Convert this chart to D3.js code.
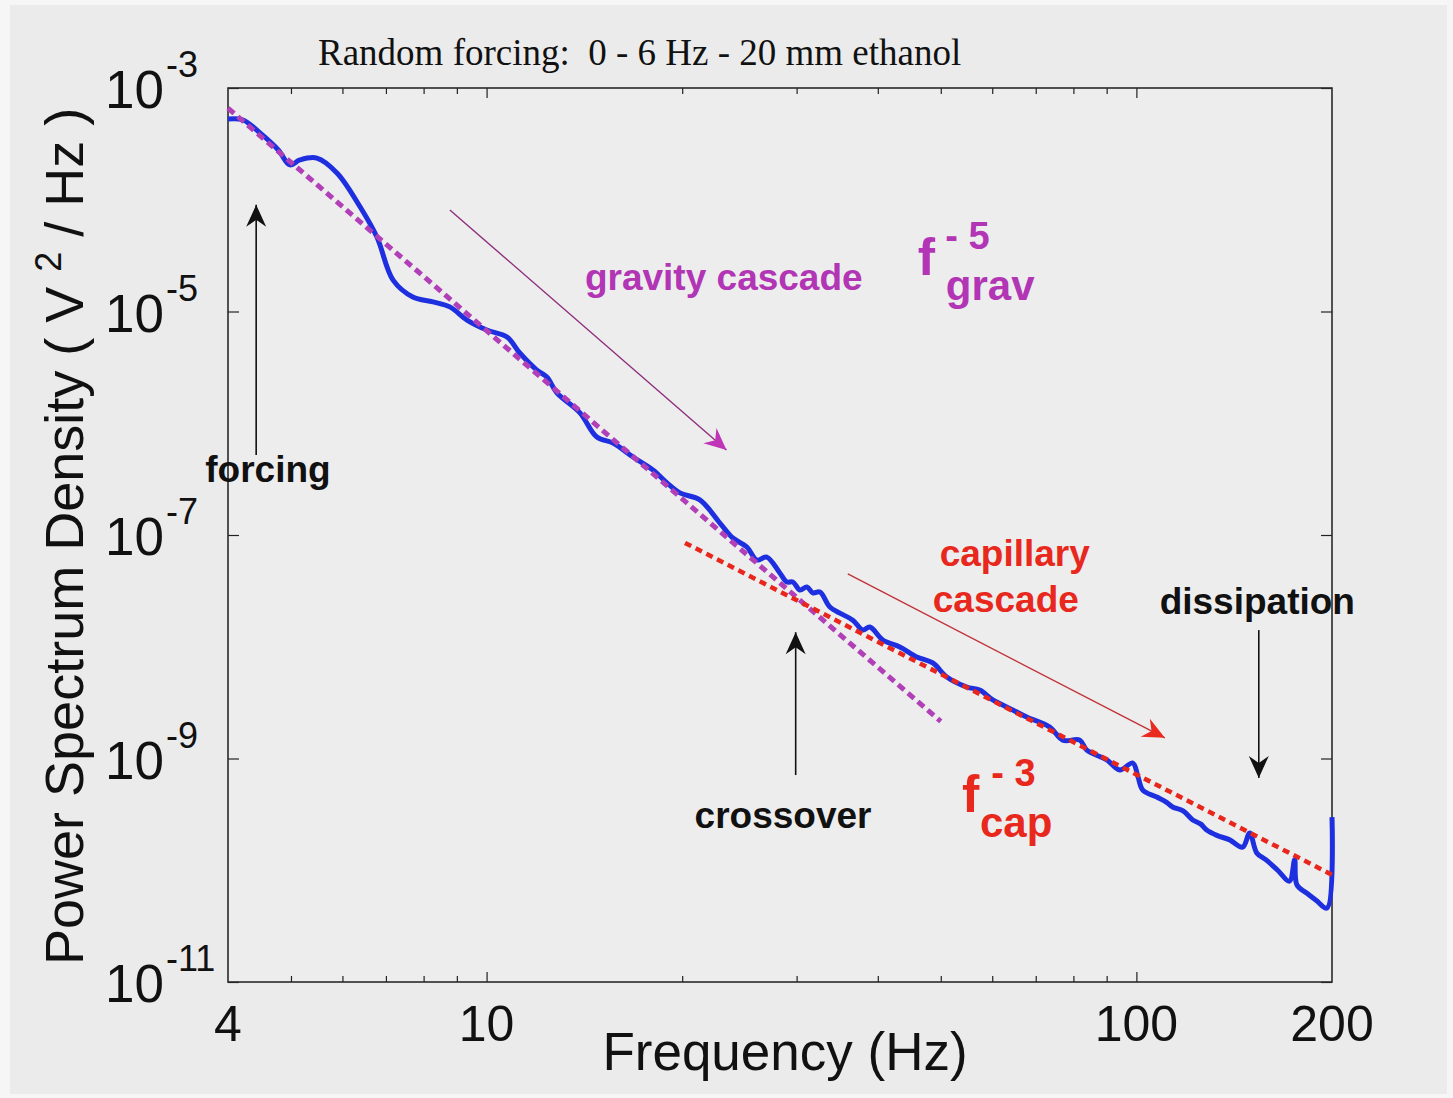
<!DOCTYPE html>
<html>
<head>
<meta charset="utf-8">
<script src="https://cdn.jsdelivr.net/npm/d3@7"></script>
<style>
  html, body { margin: 0; padding: 0; background: #f5f5f5; }
  svg { display: block; }
</style>
</head>
<body>
<script>
// ---------------- DATA ----------------
const titleText = "Random forcing:  0 - 6 Hz - 20 mm ethanol";
const xLabel = "Frequency (Hz)";

// measured power spectrum (Hz, V^2/Hz)
const freq = [4.00, 4.22, 4.48, 4.78, 4.98, 5.16, 5.48, 5.89, 6.39, 6.78, 7.18, 7.70, 8.27, 8.78, 9.33,
  10.01, 10.75, 11.25, 11.95, 12.38, 12.83, 13.92, 14.78, 15.65, 16.80, 18.03, 18.95, 19.84, 21.29, 22.86,
  23.93, 25.15, 26.06, 26.99, 28.27, 28.98, 29.60, 30.35, 31.11, 31.78, 32.58, 33.75, 34.97, 36.61, 37.93,
  38.89, 40.72, 43.25, 45.92, 48.61, 51.08, 54.83, 57.4, 60.12, 64.54, 67.81, 73.56, 77.03, 81.82, 83.88, 90.04,
  94.28, 98.72, 100.6, 102.3, 107.5, 111.0, 113.7, 118.0, 122.1, 125.5, 128.3, 133.0, 139.2, 145.7, 149.4, 153.2,
  158.0, 165.0, 172.0, 175.2, 176.6, 182.8, 189.0, 196.5, 200.0];
const psd = [5.28e-4, 5.17e-4, 3.96e-4, 2.79e-4, 2.05e-4, 2.27e-4, 2.36e-4, 1.73e-4, 8.61e-5, 4.64e-5, 1.91e-5, 1.35e-5, 1.22e-5, 1.10e-5, 8.39e-6,
  6.83e-6, 5.91e-6, 4.25e-6, 2.99e-6, 2.59e-6, 1.87e-6, 1.24e-6, 7.53e-7, 6.66e-7, 4.99e-7, 3.82e-7, 2.92e-7, 2.38e-7, 2.06e-7, 1.28e-7,
  9.40e-8, 7.81e-8, 5.97e-8, 6.35e-8, 4.57e-8, 3.80e-8, 3.80e-8, 3.22e-8, 3.43e-8, 3.03e-8, 3.09e-8, 2.27e-8, 2.00e-8, 1.73e-8, 1.41e-8,
  1.50e-8, 1.15e-8, 9.95e-9, 8.10e-9, 7.16e-9, 5.36e-9, 4.36e-9, 4.10e-9, 3.34e-9, 2.72e-9, 2.35e-9, 1.91e-9, 1.46e-9, 1.46e-9, 1.19e-9, 9.70e-10,
  7.89e-10, 9.11e-10, 6.8e-10, 5.22e-10, 4.52e-10, 4.10e-10, 3.68e-10, 3.40e-10, 2.82e-10, 2.60e-10, 2.29e-10, 2.05e-10, 1.87e-10, 1.61e-10, 2.15e-10, 1.43e-10,
  1.25e-10, 1.00e-10, 8.0e-11, 1.24e-10, 7.4e-11, 6.26e-11, 5.4e-11, 4.6e-11, 2.99e-10];

// power-law guides (end points)
const gravFreq = [4, 50];
const gravPsd = [6.6e-4, 2.15e-9];
const capFreq = [20.2, 200];
const capPsd = [8.5e-8, 9.1e-11];

// axes
const xDomain = [4, 200];
const yDomain = [1e-11, 1e-3];
const xTickLabels = [4, 10, 100, 200];
const xMajorTicks = [10, 100];
const xMinorTicks = [5, 6, 7, 8, 9, 20, 30, 40, 50, 60, 70, 80, 90];
const yTickExps = [-3, -5, -7, -9, -11];

// annotations (data coordinates)
const noteTexts = [
  { text: "forcing", f: 3.69, p: 2.98e-7, color: "#111" },
  { text: "gravity cascade", f: 14.17, p: 1.56e-5, color: "#b135b4" },
  { text: "capillary", f: 49.8, p: 5.28e-8, color: "#e8271d" },
  { text: "cascade", f: 48.6, p: 2.05e-8, color: "#e8271d" },
  { text: "dissipation", f: 108.6, p: 1.96e-8, color: "#111" },
  { text: "crossover", f: 20.9, p: 2.39e-10, color: "#111" }
];
const lawTexts = [
  { base: "f", exp: "- 5", sub: "grav", f: 46.1, p: 2.12e-5, color: "#b135b4", subDx: 28, expDx: 10 },
  { base: "f", exp: "- 3", sub: "cap", f: 53.9, p: 3.32e-10, color: "#e8271d", subDx: 18, expDx: 12 }
];
const arrows = [
  { f1: 4.42, p1: 5.2e-7, f2: 4.42, p2: 9.0e-5, color: "#111", w: 1.6, head: "k" },
  { f1: 8.78, p1: 8.1e-5, f2: 23.4, p2: 5.76e-7, color: "#8e2f7c", w: 1.4, head: "m" },
  { f1: 35.97, p1: 4.48e-8, f2: 110.6, p2: 1.53e-9, color: "#c2323a", w: 1.4, head: "r" },
  { f1: 29.9, p1: 7.11e-10, f2: 29.9, p2: 1.35e-8, color: "#111", w: 1.6, head: "k" },
  { f1: 154.3, p1: 1.41e-8, f2: 154.3, p2: 6.7e-10, color: "#111", w: 1.6, head: "k" }
];

// ---------------- LAYOUT ----------------
const W = 1453, H = 1098;
const margin = { left: 228, top: 88, right: W - 1332, bottom: H - 982 };
const iw = W - margin.left - margin.right;
const ih = H - margin.top - margin.bottom;
const sans = "'Liberation Sans', Arial, Helvetica, sans-serif";

const svg = d3.select("body").append("svg").attr("width", W).attr("height", H);
svg.append("rect").attr("x", 0).attr("y", 0).attr("width", W).attr("height", H).attr("fill", "#f6f6f6");
svg.append("rect").attr("x", 10).attr("y", 5).attr("width", W - 16).attr("height", H - 9).attr("fill", "#ebebeb");

const x = d3.scaleLog().domain(xDomain).range([0, iw]);
const y = d3.scaleLog().domain(yDomain).range([ih, 0]);

const g = svg.append("g").attr("transform", `translate(${margin.left},${margin.top})`);
g.append("rect").attr("width", iw).attr("height", ih).attr("fill", "#ededed");

// ticks (inward)
function tickAxis(axisGen, transform) {
  const a = g.append("g").attr("transform", transform).call(axisGen);
  a.selectAll("text").remove();
  a.select(".domain").remove();
  a.selectAll("line").attr("stroke", "#222").attr("stroke-width", 1.2);
  return a;
}
tickAxis(d3.axisBottom(x).tickValues(xMinorTicks).tickSize(-6).tickFormat(""), `translate(0,${ih})`);
tickAxis(d3.axisBottom(x).tickValues(xMajorTicks).tickSize(-10).tickFormat(""), `translate(0,${ih})`);
tickAxis(d3.axisTop(x).tickValues(xMinorTicks).tickSize(-6).tickFormat(""), `translate(0,0)`);
tickAxis(d3.axisTop(x).tickValues(xMajorTicks).tickSize(-10).tickFormat(""), `translate(0,0)`);
const yTickVals = yTickExps.map(e => Math.pow(10, e));
tickAxis(d3.axisLeft(y).tickValues(yTickVals).tickSize(-11).tickFormat(""), `translate(0,0)`);
tickAxis(d3.axisRight(y).tickValues(yTickVals).tickSize(-11).tickFormat(""), `translate(${iw},0)`);

// frame
g.append("rect").attr("width", iw).attr("height", ih).attr("fill", "none")
  .attr("stroke", "#2a2a2a").attr("stroke-width", 1.6);

// x tick labels
g.selectAll("text.xt").data(xTickLabels).join("text").attr("class", "xt")
  .attr("x", d => x(d)).attr("y", ih + 59).attr("text-anchor", "middle")
  .attr("font-family", sans).attr("font-size", 50).attr("fill", "#111").text(d => d);

// y tick labels 10^e
const yt = g.selectAll("text.yt").data(yTickExps).join("text").attr("class", "yt")
  .attr("x", -123).attr("y", d => y(Math.pow(10, d)) + 20)
  .attr("font-family", sans).attr("fill", "#111");
yt.append("tspan").attr("font-size", 53).text("10");
yt.append("tspan").attr("font-size", 36).attr("dy", -31).attr("dx", 2).text(d => String(d));

// axis titles
svg.append("text").attr("x", 785).attr("y", 1070).attr("text-anchor", "middle")
  .attr("font-family", sans).attr("font-size", 53).attr("fill", "#111").text(xLabel);
const yl = svg.append("text").attr("transform", "translate(83,965) rotate(-90)")
  .attr("font-family", sans).attr("font-size", 54).attr("fill", "#111");
yl.append("tspan").text("Power Spectrum Density ( V ");
yl.append("tspan").attr("font-size", 36).attr("dy", -22).text("2");
yl.append("tspan").attr("dy", 22).text(" / Hz )");

// title
svg.append("text").attr("x", 318).attr("y", 65)
  .attr("font-family", "'Liberation Serif', 'Times New Roman', serif")
  .style("white-space", "pre")
  .attr("font-size", 37).attr("fill", "#111").text(titleText);

// ---------------- MARKS ----------------
const pts = freq.map((f, i) => [f, psd[i]]);
const line = d3.line().x(d => x(d[0])).y(d => y(d[1])).curve(d3.curveCatmullRom.alpha(0.5));

g.append("path").datum(pts).attr("d", line).attr("fill", "none")
  .attr("stroke", "#1e2fe0").attr("stroke-width", 5).attr("stroke-linejoin", "round");

const straight = d3.line().x(d => x(d[0])).y(d => y(d[1]));
g.append("path").datum(gravFreq.map((f, i) => [f, gravPsd[i]])).attr("d", straight)
  .attr("fill", "none").attr("stroke", "#b03fb8").attr("stroke-width", 5)
  .attr("stroke-dasharray", "8,5");
g.append("path").datum(capFreq.map((f, i) => [f, capPsd[i]])).attr("d", straight)
  .attr("fill", "none").attr("stroke", "#e8261c").attr("stroke-width", 4.5)
  .attr("stroke-dasharray", "7,5");

// arrow heads
const defs = svg.append("defs");
const headColors = { k: "#111", m: "#c034b8", r: "#ea2a1e" };
Object.entries(headColors).forEach(([k, c]) => {
  defs.append("marker").attr("id", "ah-" + k).attr("viewBox", "-24 -11 26 22")
    .attr("refX", 0).attr("refY", 0).attr("markerWidth", 26).attr("markerHeight", 22)
    .attr("markerUnits", "userSpaceOnUse").attr("orient", "auto")
    .append("path").attr("d", "M0,0 L-22,-10 L-15,0 L-22,10 Z").attr("fill", c);
});
g.selectAll("line.arr").data(arrows).join("line").attr("class", "arr")
  .attr("x1", d => x(d.f1)).attr("y1", d => y(d.p1))
  .attr("x2", d => x(d.f2)).attr("y2", d => y(d.p2))
  .attr("stroke", d => d.color).attr("stroke-width", d => d.w)
  .attr("marker-end", d => `url(#ah-${d.head})`);

// annotation text
g.selectAll("text.note").data(noteTexts).join("text").attr("class", "note")
  .attr("x", d => x(d.f)).attr("y", d => y(d.p))
  .attr("font-family", sans).attr("font-weight", "bold").attr("font-size", 37)
  .attr("fill", d => d.color).text(d => d.text);

const lt = g.selectAll("text.law").data(lawTexts).join("text").attr("class", "law")
  .attr("x", d => x(d.f)).attr("y", d => y(d.p))
  .attr("font-family", sans).attr("font-weight", "bold").attr("fill", d => d.color);
lt.append("tspan").attr("font-size", 52).text(d => d.base);
lt.append("tspan").attr("font-size", 38).attr("dx", d => d.expDx).attr("dy", -26).text(d => d.exp);
lt.append("tspan").attr("font-size", 42).attr("x", d => x(d.f) + d.subDx).attr("dy", 51).text(d => d.sub);
</script>
</body>
</html>
